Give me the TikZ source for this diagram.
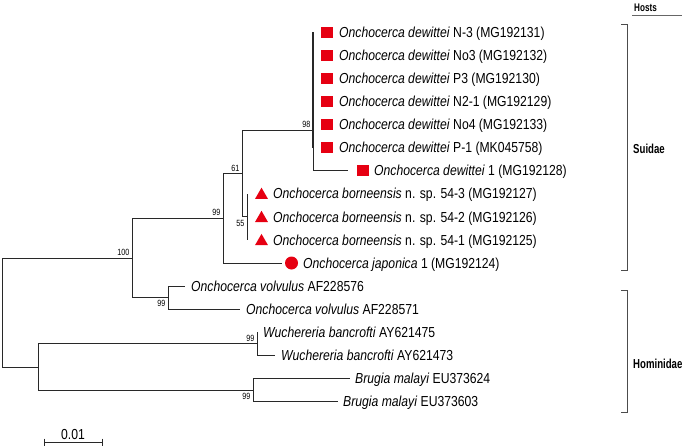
\documentclass[tikz,border=0pt]{standalone}
\usepackage{fontspec}
\setmainfont{Liberation Sans}[FakeStretch=0.84]
\newfontfamily\bootfont{Liberation Sans}[FakeStretch=0.8]
\newfontfamily\hostfont{Liberation Sans}[FakeStretch=0.74]
\usetikzlibrary{shapes.geometric}
\definecolor{mred}{RGB}{230,0,18}
\definecolor{branchc}{RGB}{40,40,40}
\begin{document}
\begin{tikzpicture}[x=1pt,y=-1pt,
 br/.style={draw=branchc,line width=0.8pt},
 brthick/.style={draw=branchc,line width=1.5pt},
 lab/.style={anchor=base west,inner sep=0pt,font=\fontsize{14.5}{16}\selectfont},
 boot/.style={inner sep=0.5pt,font=\bootfont\fontsize{9}{10}\selectfont},
 sq/.style={fill=mred,minimum width=11.5pt,minimum height=11pt,inner sep=0pt},
 tri/.style={fill=mred,regular polygon,regular polygon sides=3,minimum size=15pt,inner sep=0pt},
 dotm/.style={fill=mred,circle,minimum size=13pt,inner sep=0pt},
 host/.style={font=\hostfont\bfseries\fontsize{13}{15}\selectfont,anchor=base west,inner sep=0pt},
 brk/.style={draw=black!70,line width=0.8pt}]
\useasboundingbox (0,0) rectangle (685,447);

% internal nodes
\coordinate (nin) at (313,89.75);
\coordinate (n98) at (313,130.2);
\coordinate (n55) at (247,216.8);
\coordinate (n61) at (242,173.5);
\coordinate (n99) at (223,218.25);
\coordinate (nvol) at (168,297.65);
\coordinate (n100) at (132,257.95);
\coordinate (nW) at (257,343.85);
\coordinate (nBr) at (253,390.05);
\coordinate (nB) at (38,366.95);
\coordinate (root) at (2,312.45);

% leaf ends
\coordinate (l0) at (313,32.0);
\coordinate (l1) at (313,55.1);
\coordinate (l2) at (313,78.2);
\coordinate (l3) at (313,101.3);
\coordinate (l4) at (313,124.4);
\coordinate (l5) at (313,147.5);
\coordinate (l6) at (348,170.6);
\coordinate (l7) at (247,193.7);
\coordinate (l8) at (247,216.8);
\coordinate (l9) at (247,239.9);
\coordinate (l10) at (282,263.0);
\coordinate (l11) at (185,286.1);
\coordinate (l12) at (240,309.2);
\coordinate (l13) at (257,332.3);
\coordinate (l14) at (275,355.4);
\coordinate (l15) at (350,378.5);
\coordinate (l16) at (338,401.6);

% branches
\draw[br] (root) |- (n100);
\draw[br] (root) |- (nB);
\draw[br] (n100) |- (n99);
\draw[br] (n100) |- (nvol);
\draw[br] (n99) |- (n61);
\draw[br] (n99) |- (l10);
\draw[br] (n61) |- (n98);
\draw[br] (n61) |- (n55);
\draw[br] (n98) |- (nin);
\draw[br] (n98) |- (l6);
\draw[brthick] (l0) -- (l5);
\draw[br] (n55) |- (l7);
\draw[br] (n55) |- (l9);
\draw[br] (nvol) |- (l11);
\draw[br] (nvol) |- (l12);
\draw[br] (nB) |- (nW);
\draw[br] (nB) |- (nBr);
\draw[br] (nW) |- (l13);
\draw[br] (nW) |- (l14);
\draw[br] (nBr) |- (l15);
\draw[br] (nBr) |- (l16);

% markers
\node[sq] (m0) at (327,32.0) {};
\node[sq] (m1) at (327,55.1) {};
\node[sq] (m2) at (327,78.2) {};
\node[sq] (m3) at (327,101.3) {};
\node[sq] (m4) at (327,124.4) {};
\node[sq] (m5) at (327,147.5) {};
\node[sq] (m6) at (363,170.6) {};
\node[tri] (m7) at (261.5,195.2) {};
\node[tri] (m8) at (261.5,218.3) {};
\node[tri] (m9) at (261.5,241.4) {};
\node[dotm] (m10) at (291.5,263.0) {};

% labels
\node[lab] (t0) at (339,37.2) {\textit{Onchocerca dewittei} N-3 (MG192131)};
\node[lab] (t1) at (339,60.3) {\textit{Onchocerca dewittei} No3 (MG192132)};
\node[lab] (t2) at (339,83.4) {\textit{Onchocerca dewittei} P3 (MG192130)};
\node[lab] (t3) at (339,106.5) {\textit{Onchocerca dewittei} N2-1 (MG192129)};
\node[lab] (t4) at (339,129.6) {\textit{Onchocerca dewittei} No4 (MG192133)};
\node[lab] (t5) at (339,152.7) {\textit{Onchocerca dewittei} P-1 (MK045758)};
\node[lab] (t6) at (374,175.8) {\textit{Onchocerca dewittei} 1 (MG192128)};
\node[lab] (t7) at (273,198.9) {\textit{Onchocerca borneensis} n. sp. 54-3 (MG192127)};
\node[lab] (t8) at (273,222.0) {\textit{Onchocerca borneensis} n. sp. 54-2 (MG192126)};
\node[lab] (t9) at (273,245.1) {\textit{Onchocerca borneensis} n. sp. 54-1 (MG192125)};
\node[lab] (t10) at (303,268.2) {\textit{Onchocerca japonica} 1 (MG192124)};
\node[lab] (t11) at (191,291.3) {\textit{Onchocerca volvulus} AF228576};
\node[lab] (t12) at (246,314.4) {\textit{Onchocerca volvulus} AF228571};
\node[lab] (t13) at (263,337.5) {\textit{Wuchereria bancrofti} AY621475};
\node[lab] (t14) at (281,360.6) {\textit{Wuchereria bancrofti} AY621473};
\node[lab] (t15) at (355,383.7) {\textit{Brugia malayi} EU373624};
\node[lab] (t16) at (343,406.8) {\textit{Brugia malayi} EU373603};

% bootstrap values
\node[boot,anchor=south east] (b98) at (311,128.5) {98};
\node[boot,anchor=south east] (b61) at (240,172) {61};
\node[boot,anchor=south east] (b99a) at (221,216.5) {99};
\node[boot,anchor=north east] (b55) at (245,219.5) {55};
\node[boot,anchor=south east] (b100) at (130,256.5) {100};
\node[boot,anchor=north east] (b99b) at (166,300) {99};
\node[boot,anchor=south east] (b99c) at (255,342) {99};
\node[boot,anchor=north east] (b99d) at (251,393) {99};

% scale bar
\coordinate (sb1) at (44,442);
\coordinate (sb2) at (102,442);
\draw[br] (sb1) -- (sb2);
\draw[br] ([yshift=3.5pt]sb1) -- ([yshift=-3.5pt]sb1);
\draw[br] ([yshift=3.5pt]sb2) -- ([yshift=-3.5pt]sb2);
\node[lab,anchor=base] (sbl) at (73,439) {0.01};

% hosts
\node[host,font=\hostfont\bfseries\fontsize{11}{13}\selectfont] (hosts) at (634,11.7) {Hosts};
\draw[draw=black!60,line width=0.8pt] (632,15) -- (682,15);
\draw[brk] (621,24) -- (627,24) -- (627,270) -- (621,270);
\draw[brk] (621,290) -- (627,290) -- (627,412) -- (621,412);
\node[host] (suid) at (633,153) {Suidae};
\node[host] (homi) at (633,368) {Hominidae};
\end{tikzpicture}
\end{document}
